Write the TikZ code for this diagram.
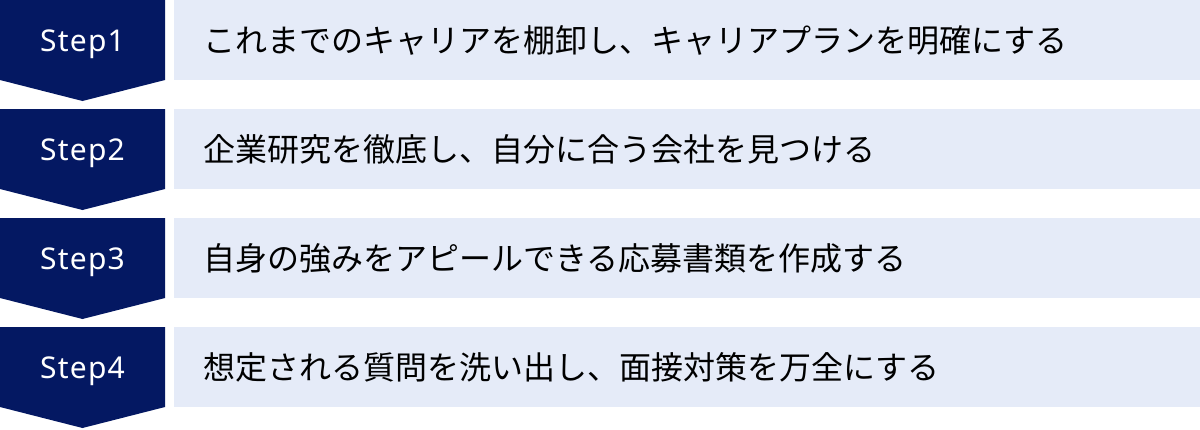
\documentclass[tikz,border=0pt]{standalone}
\usepackage{fontspec}
\setmainfont{Noto Sans CJK JP}
\newfontfamily\steplatin[LetterSpace=4]{Noto Sans}
\usepackage{tikz}
\definecolor{navy}{HTML}{041862}
\definecolor{paleblue}{HTML}{E5EBF8}

\begin{document}
\begin{tikzpicture}[x=1pt,y=-1pt,
    stepbox/.style={fill=navy},
    steplabel/.style={text=white,font=\steplatin\fontsize{30}{30}\selectfont},
    taskbox/.style={fill=paleblue,anchor=north west,minimum width=1026pt,minimum height=80pt,
      text width=968pt,inner xsep=29pt,inner ysep=0pt,align=left,font=\fontsize{32}{32}\selectfont}]
    \useasboundingbox (0,0) rectangle (1200,429);

    \foreach \i/\task in {1/{これまでのキャリアを棚卸し、キャリアプランを明確にする},
        2/{企業研究を徹底し、自分に合う会社を見つける},
        3/{自身の強みをアピールできる応募書類を作成する},
        4/{想定される質問を洗い出し、面接対策を万全にする}}{
      \coordinate (top\i) at (0,{(\i-1)*109});
      \fill[stepbox] (top\i) -- ++(165,0) -- ++(0,80) -- ++(-82.5,21) -- ++(-82.5,-21) -- cycle;
      \node[steplabel] (step\i) at (82.5,{(\i-1)*109+44}) {Step\i};
      \node[taskbox] (task\i) at (174,{(\i-1)*109}) {\task};
    }
\end{tikzpicture}
\end{document}
